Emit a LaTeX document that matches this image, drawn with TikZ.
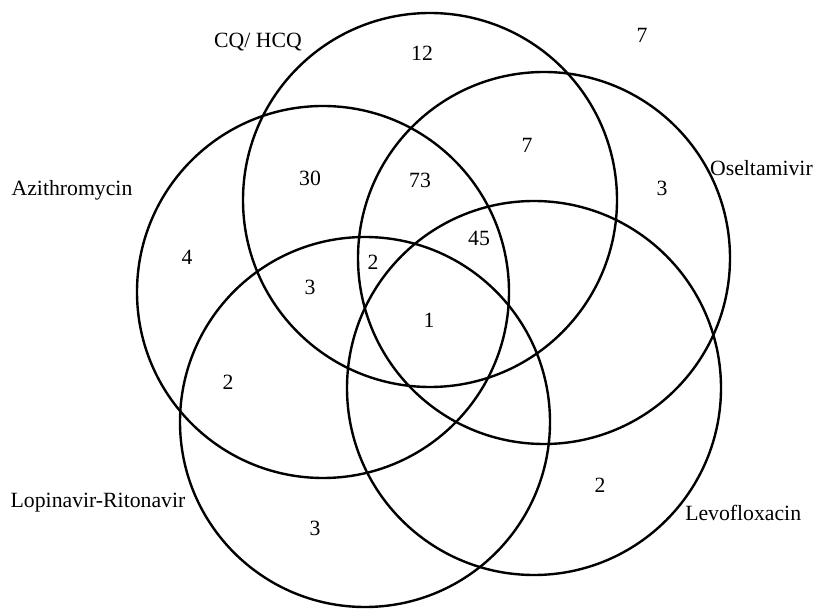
\documentclass[tikz,border=0pt]{standalone}
\usepackage{fontspec}
\setmainfont{Liberation Serif}
\usepackage{tikz}

\begin{document}
\begin{tikzpicture}[
    x=0.75pt, y=-0.75pt,
    ring/.style={draw, line width=1.8pt},
    lbl/.style={font=\fontsize{16.3}{18}\selectfont, inner sep=0pt},
    num/.style={font=\fontsize{16.3}{18}\selectfont, inner sep=0pt},
]
\useasboundingbox[fill=white] (0,0) rectangle (814,609);

\coordinate (cq) at (430,200);
\coordinate (osel) at (544,258);
\coordinate (levo) at (534,388);
\coordinate (lopi) at (365,422);
\coordinate (azi) at (323,292);

\draw[ring] (cq) circle (187);
\draw[ring] (osel) circle (186);
\draw[ring] (levo) circle (187);
\draw[ring] (lopi) circle (185);
\draw[ring] (azi) circle (186);

% Set names
\node[lbl] (lblcq) at (258,42) {CQ/ HCQ};
\node[lbl] (lblazi) at (72,190) {Azithromycin};
\node[lbl, anchor=east] (lblosel) at (813,168) {Oseltamivir};
\node[lbl] (lbllopi) at (98,503) {Lopinavir-Ritonavir};
\node[lbl, anchor=west] (lbllevo) at (685,513) {Levofloxacin};

% Counts
\node[num] (nout) at (642,35) {7};
\node[num] (ncq) at (422,53) {12};
\node[num] (ncqosel) at (527,145) {7};
\node[num] (nosel) at (662,188) {3};
\node[num] (nthree) at (420,180) {73};
\node[num] (nfour) at (479,238) {45};
\node[num] (ncqazi) at (310,178) {30};
\node[num] (nazi) at (187,257) {4};
\node[num] (nmid) at (373,262) {2};
\node[num] (nazilopi) at (310,287) {3};
\node[num] (nall) at (429,320) {1};
\node[num] (nlopiazi) at (228,382) {2};
\node[num] (nlopi) at (315,528) {3};
\node[num] (nlevo) at (600,485) {2};

\end{tikzpicture}
\end{document}
